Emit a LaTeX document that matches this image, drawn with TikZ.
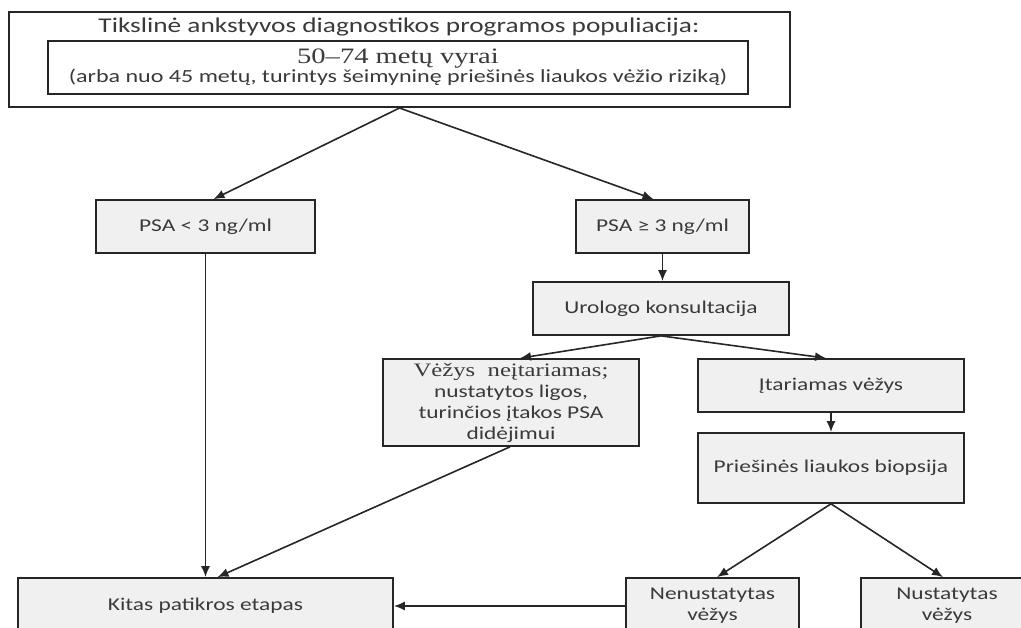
\documentclass[tikz,border=0pt]{standalone}
\usepackage{fontspec}
\setmainfont{Carlito}[FakeStretch=1.3]
\newfontfamily\tnr{Liberation Serif}[FakeStretch=1.3]
\usetikzlibrary{arrows.meta}
\definecolor{boxgray}{HTML}{F0F0F0}
\definecolor{txt}{HTML}{3A3A3A}
\definecolor{edge}{HTML}{262626}
\begin{document}
\begin{tikzpicture}[x=1pt,y=-1pt,
  box/.style={draw=edge, line width=1.7pt, fill=boxgray, text=txt, align=center,
    inner sep=0pt, font=\fontsize{18}{21}\selectfont},
  arr/.style={draw=edge, line width=1.6pt, -{Latex[length=11pt,width=9pt]}}]
\useasboundingbox (0,0) rectangle (1021,628);
\clip (0,0) rectangle (1021,628);

\node[draw=edge, line width=2pt, fill=white, minimum width=781pt, minimum height=95pt] (top) at (399.5,59.5) {};
\node[text=txt, inner sep=0pt, font=\fontsize{21}{24}\selectfont] (title) at (399,27) {Tikslinė ankstyvos diagnostikos programos populiacija:};
\node[draw=edge, line width=1.7pt, fill=white, text=txt, align=center, inner sep=0pt,
  minimum width=700pt, minimum height=53pt] (inner) at (398,67.5)
  {{\tnr\fontsize{22}{21}\selectfont 50–74 metų vyrai}\\{\fontsize{18.5}{20}\selectfont (arba nuo 45 metų, turintys šeimyninę priešinės liaukos vėžio riziką)}};

\node[box, minimum width=219pt, minimum height=53pt] (psaL) at (205.5,226.5) {PSA < 3 ng/ml};
\node[box, minimum width=173pt, minimum height=53pt] (psaR) at (662.5,226.5) {PSA ≥ 3 ng/ml};
\node[box, minimum width=256pt, minimum height=53pt] (uro) at (661,308.5) {Urologo konsultacija};
\node[box, minimum width=256pt, minimum height=87pt] (v1) at (511,402.5)
  {{\tnr\fontsize{19}{21}\selectfont Vėžys\ \ neįtariamas;}\\nustatytos ligos,\\turinčios įtakos PSA\\didėjimui};
\node[box, minimum width=266pt, minimum height=53pt] (it) at (831,385.5) {Įtariamas vėžys};
\node[box, minimum width=266pt, minimum height=70pt] (bio) at (831,468) {Priešinės liaukos biopsija};
\node[box, minimum width=375pt, minimum height=56pt] (kitas) at (205.5,606) {Kitas patikros etapas};
\node[box, minimum width=173pt, minimum height=56pt] (nen) at (712.5,606) {Nenustatytas\\vėžys};
\node[box, minimum width=172pt, minimum height=56pt] (nus) at (947,606) {Nustatytas\\vėžys};

\draw[arr] (top.south) -- ([xshift=8pt]psaL.north);
\draw[arr] (top.south) -- ([xshift=-9pt]psaR.north);
\draw[arr] (psaR.south) -- (psaR.south |- uro.north);
\draw[arr] (uro.south) -- ([xshift=9pt]v1.north);
\draw[arr] (uro.south) -- ([xshift=-5pt]it.north);
\draw[arr] (it.south) -- (bio.north);
\draw[arr] (bio.south) -- ([xshift=4.5pt]nen.north);
\draw[arr] (bio.south) -- ([xshift=-4pt]nus.north);
\draw[arr] (psaL.south) -- (kitas.north);
\draw[arr] ([xshift=-1pt]v1.south) -- ([xshift=12pt]kitas.north);
\draw[arr] (nen.west) -- (kitas.east);
\end{tikzpicture}
\end{document}
